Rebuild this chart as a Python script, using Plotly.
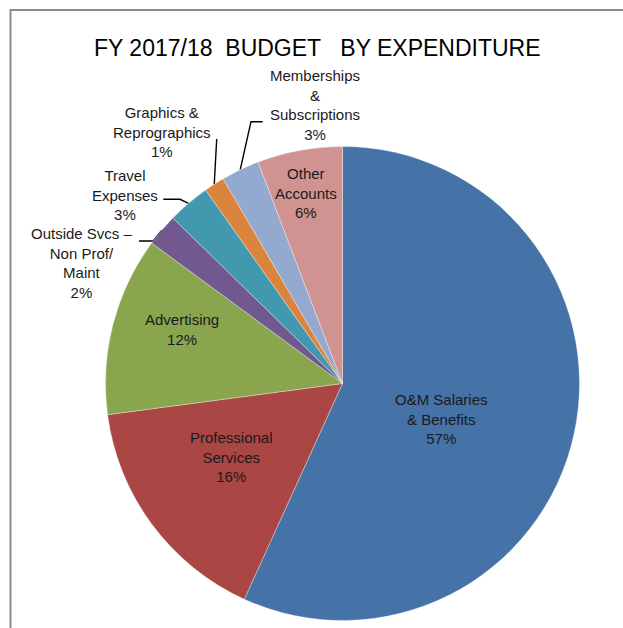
import plotly.graph_objects as go
import math

# ---- data ----
categories = ["O&M Salaries<br>& Benefits", "Professional<br>Services", "Advertising",
              "Outside Svcs –<br>Non Prof/<br>Maint", "Travel<br>Expenses",
              "Graphics &<br>Reprographics", "Memberships<br>&<br>Subscriptions",
              "Other<br>Accounts"]
values = [56.8, 16.1, 12.2, 2.2, 2.9, 1.4, 2.6, 5.8]
title_text = "FY 2017/18\u00a0\u00a0BUDGET\u00a0\u00a0\u00a0BY EXPENDITURE"

# ---- style / layout ----
colors = ["#4572A7", "#AA4643", "#89A54E", "#71588F", "#4198AF", "#DB843D", "#93A9CF", "#D19392"]
W, H = 623, 628
CX, CY, R = 342.5, 383.5, 237.0
FONT = "Liberation Sans, Arial, sans-serif"
# label block centres (pixels)
label_pos = [(441, 419), (231, 457), (182, 329), (82, 263), (125, 195), (162, 132), (315, 105), (306, 193)]
# leader lines: index -> (end point near text, elbow point)
leaders = {3: ((139, 241), (153.3, 241)),
           4: ((163.3, 199.3), (180, 199.3)),
           5: ((216.7, 139), (216.7, 139)),
           6: ((262.7, 121.7), (251, 121.7))}

fig = go.Figure()

fig.add_trace(go.Pie(
    labels=categories, values=values, sort=False, direction="clockwise", rotation=0,
    marker=dict(colors=colors, line=dict(color="rgba(255,255,255,0.55)", width=0.6)),
    textinfo="none", hoverinfo="label+percent", showlegend=False,
    domain=dict(x=[(CX - R) / W, (CX + R) / W], y=[(H - CY - R) / H, (H - CY + R) / H]),
))

total = sum(values)
cum = 0.0
for i, (lab, v) in enumerate(zip(categories, values)):
    mid = (cum + v / 2) / total * 2 * math.pi
    cum += v
    pct = round(v / total * 100)
    x, y = label_pos[i]
    fig.add_annotation(x=x, y=y, xref="x", yref="y", text=f"{lab}<br>{pct}%",
                       showarrow=False, xanchor="center", yanchor="middle",
                       font=dict(family=FONT, size=15, color="#1a1a1a"))
    if i in leaders:
        tip = (CX + R * math.sin(mid), CY - R * math.cos(mid))
        (ex, ey), (bx, by) = leaders[i]
        fig.add_trace(go.Scatter(x=[ex, bx, tip[0]], y=[ey, by, tip[1]], mode="lines",
                                 line=dict(color="black", width=1.4), hoverinfo="skip",
                                 showlegend=False))

fig.add_annotation(x=317.5, y=48, xref="x", yref="y", text=title_text, showarrow=False,
                   xanchor="center", yanchor="middle",
                   font=dict(family=FONT, size=23, color="#000000"))

# chart frame (partially outside the window)
fig.add_shape(type="rect", x0=10.5, y0=10, x1=W + 20, y1=H + 20, xref="x", yref="y",
              line=dict(color="#8c8c8c", width=2), layer="below")

fig.update_layout(
    width=W, height=H, margin=dict(l=0, r=0, t=0, b=0),
    paper_bgcolor="white", plot_bgcolor="rgba(0,0,0,0)",
    xaxis=dict(range=[0, W], visible=False, fixedrange=True),
    yaxis=dict(range=[H, 0], visible=False, fixedrange=True),
)

fig.write_html("out.html", config={"displayModeBar": False},
               post_script="document.body.style.margin='0';document.body.style.overflow='hidden';")
